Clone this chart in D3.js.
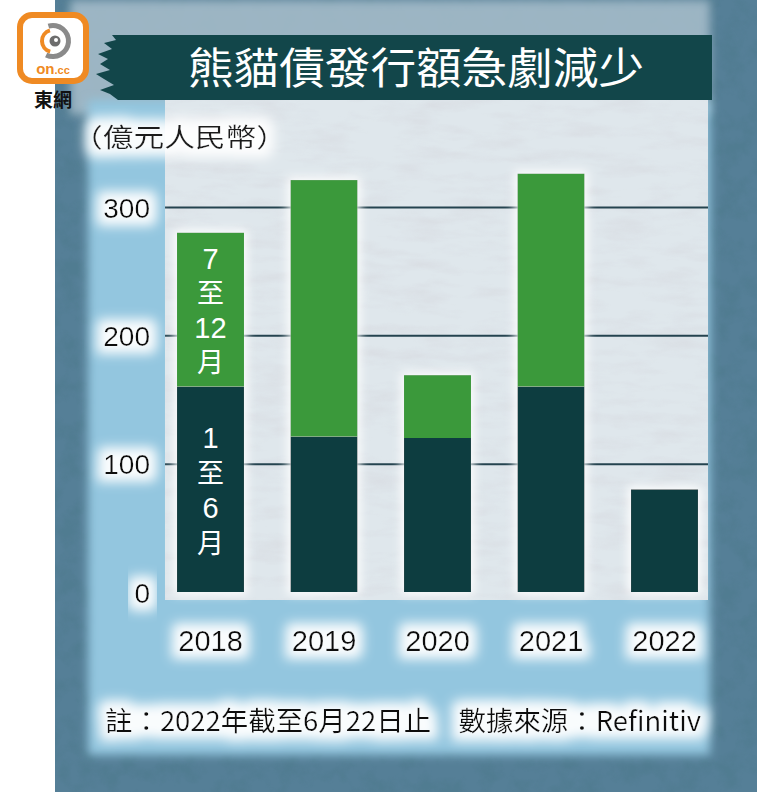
<!DOCTYPE html>
<html><head><meta charset="utf-8">
<script src="https://cdn.jsdelivr.net/npm/d3@7"></script>
<style>html,body{margin:0;padding:0;background:#fff;}svg{display:block;}</style>
</head><body>
<script>
// ---- data ----
const years = ["2018","2019","2020","2021","2022"];
const firstHalf = [160, 121, 120, 160, 80];   // 1至6月
const secondHalf = [120, 200, 49, 166, 0];    // 7至12月
const yTicks = [0, 100, 200, 300];
const titleText = "熊貓債發行額急劇減少";
const unitText = "（億元人民幣）";
const noteText = "註：2022年截至6月22日止　數據來源：Refinitiv";
const labelH2 = ["7","至","12","月"];
const labelH1 = ["1","至","6","月"];

const W = 780, H = 792;
const svg = d3.select("body").append("svg").attr("width", W).attr("height", H);
const defs = svg.append("defs");

// filters
const noise = defs.append("filter").attr("id","noise").attr("x",0).attr("y",0).attr("width","100%").attr("height","100%");
noise.append("feTurbulence").attr("type","fractalNoise").attr("baseFrequency","0.05").attr("numOctaves",5).attr("seed",7).attr("result","t");
noise.append("feColorMatrix").attr("in","t").attr("type","matrix")
  .attr("values","0 0 0 0 0.08  0 0 0 0 0.2  0 0 0 0 0.28  3 0 0 0 -1.25");
const noiseL = defs.append("filter").attr("id","noiseL").attr("x",0).attr("y",0).attr("width","100%").attr("height","100%");
noiseL.append("feTurbulence").attr("type","fractalNoise").attr("baseFrequency","0.02 0.08").attr("numOctaves",4).attr("seed",3).attr("result","t");
noiseL.append("feColorMatrix").attr("in","t").attr("type","matrix")
  .attr("values","0 0 0 0 0.55  0 0 0 0 0.5  0 0 0 0 0.55  1.3 0 0 0 -0.55");

const soft = defs.append("filter").attr("id","soft").attr("x","-10%").attr("y","-10%").attr("width","120%").attr("height","120%");
soft.append("feGaussianBlur").attr("stdDeviation",5);

const glow = defs.append("filter").attr("id","glow").attr("x","-40%").attr("y","-60%").attr("width","180%").attr("height","220%");
glow.append("feMorphology").attr("in","SourceAlpha").attr("operator","dilate").attr("radius",8).attr("result","d");
glow.append("feGaussianBlur").attr("in","d").attr("stdDeviation",6).attr("result","b");
glow.append("feFlood").attr("flood-color","#ffffff").attr("flood-opacity",0.95);
glow.append("feComposite").attr("in2","b").attr("operator","in").attr("result","g");
const gm = glow.append("feMerge"); gm.append("feMergeNode").attr("in","g"); gm.append("feMergeNode").attr("in","SourceGraphic");

const halo = defs.append("filter").attr("id","halo").attr("x","-30%").attr("y","-10%").attr("width","160%").attr("height","120%");
halo.append("feMorphology").attr("in","SourceAlpha").attr("operator","dilate").attr("radius",3).attr("result","d");
halo.append("feGaussianBlur").attr("in","d").attr("stdDeviation",5).attr("result","b");
halo.append("feFlood").attr("flood-color","#ffffff").attr("flood-opacity",0.9);
halo.append("feComposite").attr("in2","b").attr("operator","in").attr("result","g");
const hm = halo.append("feMerge"); hm.append("feMergeNode").attr("in","g"); hm.append("feMergeNode").attr("in","SourceGraphic");

// ---- background ----
svg.append("rect").attr("width",W).attr("height",H).attr("fill","#fff");
svg.append("rect").attr("x",55).attr("y",0).attr("width",702).attr("height",H).attr("fill","#557f97");
svg.append("rect").attr("x",55).attr("y",0).attr("width",702).attr("height",H).attr("filter","url(#noise)").attr("opacity",0.8);
// upper lighter band
svg.append("rect").attr("x",70).attr("y",0).attr("width",640).attr("height",115).attr("fill","#a9bfcc").attr("opacity",0.85).attr("filter","url(#soft)");
// light blue panel
svg.append("rect").attr("x",88).attr("y",100).attr("width",622).attr("height",655).attr("fill","#93c6df").attr("filter","url(#soft)");
// plot area
svg.append("rect").attr("x",165).attr("y",100).attr("width",543).attr("height",500).attr("fill","#dfe7ec");
svg.append("rect").attr("x",165).attr("y",100).attr("width",543).attr("height",500).attr("filter","url(#noiseL)").attr("opacity",0.3);

// ---- scales ----
const x = d3.scaleBand().domain(years).range([153.75, 721.25]).paddingInner(0.41).paddingOuter(0.205);
const y = d3.scaleLinear().domain([0, 300]).range([592, 207]);

// gridlines via axis
const grid = svg.append("g").attr("transform","translate(165,0)")
  .call(d3.axisLeft(y).tickValues(yTicks.filter(d=>d>0)).tickSize(-543).tickFormat(""));
grid.select(".domain").remove();
grid.selectAll("line").attr("stroke","#24434f").attr("stroke-width",2);

// ---- bars ----
const rows = years.map((yr,i)=>({yr, h1:firstHalf[i], h2:secondHalf[i]}));
const stack = d3.stack().keys(["h1","h2"])(rows);
const colors = {h1:"#0c3d41", h2:"#3a993a"};
const bars = svg.append("g").attr("filter","url(#halo)");
stack.forEach(layer=>{
  bars.selectAll(null).data(layer.filter(d=>d[1]-d[0]>0)).join("rect")
    .attr("x", d=>x(d.data.yr)).attr("width", x.bandwidth())
    .attr("y", d=>y(d[1])).attr("height", d=>y(d[0])-y(d[1]))
    .attr("fill", colors[layer.key]);
});

// labels inside 2018 bar
const cx = x(years[0]) + x.bandwidth()/2;
const lab = svg.append("g").attr("fill","#fff").attr("text-anchor","middle");
const isNum = t => /\d/.test(t);
const top2 = y(firstHalf[0]+secondHalf[0]);
labelH2.forEach((t,i)=>lab.append("text").attr("x",cx).attr("y",top2+36+i*34.5).text(t)
  .attr("font-family", isNum(t)?"'Liberation Sans',sans-serif":"'Noto Sans CJK TC',sans-serif").attr("font-size",isNum(t)?29:27));
const top1 = y(firstHalf[0]);
labelH1.forEach((t,i)=>lab.append("text").attr("x",cx).attr("y",top1+61+i*35).text(t)
  .attr("font-family", isNum(t)?"'Liberation Sans',sans-serif":"'Noto Sans CJK TC',sans-serif").attr("font-size",isNum(t)?29:27));

// ---- y tick labels ----
const yl = svg.append("g").attr("transform","translate(150,0)")
  .call(d3.axisLeft(y).tickValues(yTicks).tickSize(0).tickPadding(0));
yl.select(".domain").remove();
yl.selectAll("text").attr("font-family","'Liberation Sans',sans-serif").attr("font-size",28).attr("fill","#111").attr("dy","0.36em").attr("filter","url(#glow)");

// ---- x labels ----
const xl = svg.append("g").attr("transform","translate(0,641)")
  .call(d3.axisBottom(x).tickSize(0).tickPadding(0));
xl.select(".domain").remove();
xl.selectAll("text").attr("font-family","'Liberation Sans',sans-serif").attr("font-size",29).attr("fill","#111").attr("dy","0.36em").attr("filter","url(#glow)");

// unit
svg.append("text").attr("x",72).attr("y",147).text(unitText)
  .attr("font-family","'Noto Sans CJK TC',sans-serif").attr("font-size",26).attr("fill","#1a1a1a")
  .attr("textLength",215).attr("lengthAdjust","spacingAndGlyphs").attr("filter","url(#glow)");

// note
svg.append("text").attr("x",105).attr("y",731).text(noteText)
  .attr("font-family","'Noto Sans CJK TC',sans-serif").attr("font-size",27).attr("fill","#111")
  .attr("textLength",596).attr("lengthAdjust","spacingAndGlyphs").attr("filter","url(#glow)");

// ---- title banner ----
const bannerPts = [[112,35],[712,35],[712,100],[118,100],[110,94],[100,90],[114,85],[104,79],[96,74],[110,70],[100,64],[108,59],[98,54],[112,49],[104,43],[116,40]];
svg.append("path").attr("d", d3.line()(bannerPts)+"Z").attr("fill","#12464a");
svg.append("text").attr("x",416).attr("y",84).attr("text-anchor","middle").text(titleText)
  .attr("font-family","'Noto Sans CJK TC',sans-serif").attr("font-size",43).attr("fill","#fff")
  .attr("textLength",456).attr("lengthAdjust","spacingAndGlyphs");

// ---- logo ----
const logo = svg.append("g");
logo.append("rect").attr("x",20).attr("y",15).attr("width",66).attr("height",66).attr("rx",12)
  .attr("fill","#fff").attr("stroke","#ef8a23").attr("stroke-width",6);
const arc = d3.arc();
logo.append("path").attr("transform","translate(53,41)")
  .attr("d", arc({innerRadius:13,outerRadius:18,startAngle:-0.3,endAngle:3.6})).attr("fill","#8a8a8a");
logo.append("path").attr("transform","translate(53,41)")
  .attr("d", arc({innerRadius:9,outerRadius:13,startAngle:3.4,endAngle:6.0})).attr("fill","#ef8a23");
logo.append("circle").attr("cx",55).attr("cy",41).attr("r",5.5).attr("fill","#6d6d6d");
logo.append("circle").attr("cx",56).attr("cy",40).attr("r",2).attr("fill","#fff");
logo.append("text").attr("x",53).attr("y",74).attr("text-anchor","middle")
  .attr("font-family","'Liberation Sans',sans-serif").attr("font-weight","bold").attr("fill","#ef8a23")
  .html('<tspan font-size="15">on</tspan><tspan font-size="11">.cc</tspan>');
logo.append("text").attr("x",53).attr("y",107).attr("text-anchor","middle").text("東網")
  .attr("font-family","'Noto Sans CJK TC',sans-serif").attr("font-weight","bold").attr("font-size",19).attr("fill","#111");
</script>
</body></html>
